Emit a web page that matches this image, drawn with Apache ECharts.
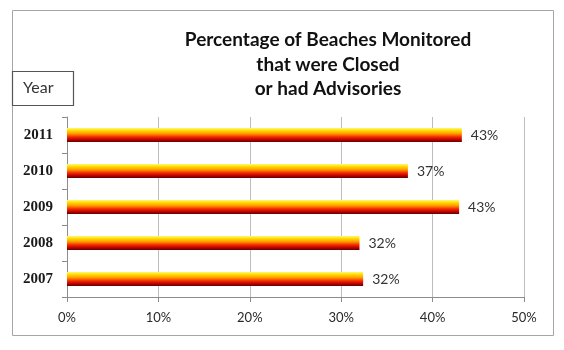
<!DOCTYPE html>
<html>
<head>
<meta charset="utf-8">
<script src="https://cdn.jsdelivr.net/npm/echarts@6/dist/echarts.min.js"></script>
<style>
html,body{margin:0;padding:0;background:#fff;}
#chart{width:564px;height:350px;}
</style>
</head>
<body>
<div id="chart"></div>
<script>
const years = ['2007', '2008', '2009', '2010', '2011'];
const percentClosed = [32.4, 32.0, 42.9, 37.3, 43.2];
const xTicks = [0, 10, 20, 30, 40, 50];
const titleLines = ['Percentage of Beaches Monitored', 'that were Closed', 'or had Advisories'];
const axisTitle = 'Year';

const chart = echarts.init(document.getElementById('chart'));
const barGradient = new echarts.graphic.LinearGradient(0, 0, 0, 1, [
  {offset: 0, color: '#FFF68A'},
  {offset: 0.15, color: '#FFE400'},
  {offset: 0.4, color: '#FF9C00'},
  {offset: 0.65, color: '#F22400'},
  {offset: 0.85, color: '#B40000'},
  {offset: 1, color: '#640000'}
]);

chart.setOption({
  animation: false,
  backgroundColor: '#fff',
  grid: {left: 67, right: 40, top: 117, bottom: 53, containLabel: false},
  xAxis: {
    type: 'value',
    min: xTicks[0],
    max: xTicks[xTicks.length - 1],
    interval: 10,
    axisLine: {show: true, lineStyle: {color: '#8c8c8c', width: 1}},
    axisTick: {show: true, length: 5, lineStyle: {color: '#8c8c8c'}},
    splitLine: {show: true, lineStyle: {color: '#bdbdbd', width: 1}},
    axisLabel: {
      formatter: '{value}%',
      color: '#2a2a2a',
      fontFamily: 'Lato',
      fontSize: 13,
      margin: 14
    }
  },
  yAxis: {
    type: 'category',
    data: years,
    axisLine: {show: true, lineStyle: {color: '#8c8c8c', width: 1}},
    axisTick: {show: true, length: 5, lineStyle: {color: '#8c8c8c'}},
    splitLine: {show: false},
    axisLabel: {
      color: '#1a1a1a',
      fontFamily: 'Liberation Serif',
      fontWeight: 'bold',
      fontSize: 15,
      margin: 14
    }
  },
  series: [{
    type: 'bar',
    data: percentClosed,
    barWidth: 14,
    itemStyle: {color: barGradient},
    label: {
      show: true,
      position: 'right',
      distance: 9,
      formatter: p => Math.round(p.value) + '%',
      color: '#333',
      fontFamily: 'Lato',
      fontSize: 14
    }
  }],
  graphic: [
    {
      type: 'rect',
      shape: {x: 12.5, y: 10.5, width: 541, height: 325},
      style: {fill: 'none', stroke: '#a6a6a6', lineWidth: 1},
      z: -1
    },
    {
      type: 'text',
      x: 328,
      y: 28,
      style: {
        text: titleLines.join('\n'),
        align: 'center',
        verticalAlign: 'top',
        lineHeight: 24.5,
        font: 'bold 19px Lato',
        fill: '#111'
      }
    },
    {
      type: 'rect',
      shape: {x: 12.5, y: 71.5, width: 61, height: 34},
      style: {fill: '#fff', stroke: '#555', lineWidth: 1.2}
    },
    {
      type: 'text',
      x: 23,
      y: 88,
      style: {
        text: axisTitle,
        verticalAlign: 'middle',
        font: '16px Lato',
        fill: '#333'
      }
    }
  ]
});
</script>
</body>
</html>
